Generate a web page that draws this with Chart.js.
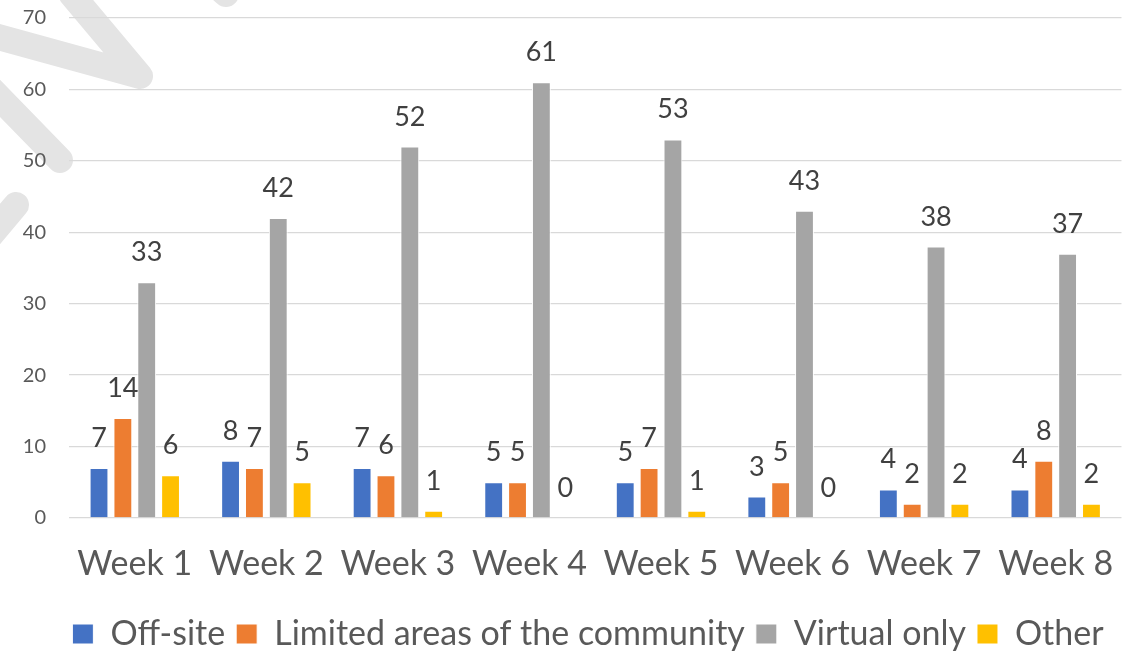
<!DOCTYPE html>
<html>
<head>
<meta charset="utf-8">
<script src="https://cdn.jsdelivr.net/npm/chart.js@4.4.0/dist/chart.umd.min.js"></script>
<style>
  html, body { margin: 0; padding: 0; background: #fff; }
  #wrap { width: 1140px; height: 657px; position: relative; }
</style>
</head>
<body>
<div id="wrap"><canvas id="chart"></canvas></div>
<script>
// Chart data
const weeks = ['Week 1', 'Week 2', 'Week 3', 'Week 4', 'Week 5', 'Week 6', 'Week 7', 'Week 8'];
const offSite = [7, 8, 7, 5, 5, 3, 4, 4];
const limitedAreas = [14, 7, 6, 5, 7, 5, 2, 8];
const virtualOnly = [33, 42, 52, 61, 53, 43, 38, 37];
const other = [6, 5, 1, 0, 1, 0, 2, 2];
const yTicks = [0, 10, 20, 30, 40, 50, 60, 70];

const FONT = 'Lato, "Open Sans", sans-serif';
const TEXT = '#595959';

// faint gray strokes in the top-left corner (background watermark)
const watermark = {
    id: 'watermark',
    beforeDraw(chart) {
        const ctx = chart.ctx;
        ctx.save();
        ctx.strokeStyle = '#e4e4e4';
        ctx.lineWidth = 26;
        ctx.lineCap = 'round';
        ctx.lineJoin = 'round';
        ctx.beginPath();
        ctx.moveTo(-20, 32);
        ctx.lineTo(140, 76);
        ctx.lineTo(72, -5);
        ctx.stroke();
        ctx.beginPath();
        ctx.moveTo(-10, 88);
        ctx.lineTo(60, 160);
        ctx.stroke();
        ctx.beginPath();
        ctx.moveTo(-10, 236);
        ctx.lineTo(16, 205);
        ctx.stroke();
        ctx.beginPath();
        ctx.moveTo(210, -20);
        ctx.lineTo(226, -6);
        ctx.stroke();
        ctx.restore();
    }
};

// value labels above each bar
const barLabels = {
    id: 'barLabels',
    afterDatasetsDraw(chart) {
        const ctx = chart.ctx;
        ctx.save();
        ctx.font = '27px ' + FONT;
        ctx.fillStyle = '#404040';
        ctx.textAlign = 'center';
        ctx.textBaseline = 'alphabetic';
        chart.data.datasets.forEach((ds, i) => {
            chart.getDatasetMeta(i).data.forEach((bar, j) => {
                ctx.fillText(String(ds.data[j]), bar.x, bar.y - 21);
            });
        });
        ctx.restore();
    }
};

// the legend sits centred under the plot area rather than the whole canvas
const legendShift = {
    id: 'legendShift',
    afterLayout(chart) {
        if (chart.legend) chart.legend.left += 50;
    }
};

const makeSet = (label, data, color) => ({
    label: label,
    data: data,
    backgroundColor: color,
    borderColor: '#ffffff',
    borderWidth: 1,
    categoryPercentage: 0.725,
    barPercentage: 0.79
});

new Chart(document.getElementById('chart').getContext('2d'), {
    type: 'bar',
    data: {
        labels: weeks,
        datasets: [
            makeSet('Off-site', offSite, '#4472C4'),
            makeSet('Limited areas of the community', limitedAreas, '#ED7D31'),
            makeSet('Virtual only', virtualOnly, '#A5A5A5'),
            makeSet('Other', other, '#FFC000')
        ]
    },
    options: {
        responsive: true,
        maintainAspectRatio: false,
        animation: false,
        layout: { padding: { top: 18, right: 14, left: 0, bottom: -4 } },
        scales: {
            y: {
                min: 0,
                max: 70,
                afterBuildTicks: (scale) => { scale.ticks = yTicks.map(v => ({ value: v })); },
                afterFit: (scale) => {
                    scale.width = 69;
                    scale.paddingTop = 0;
                    scale.paddingBottom = 0;
                },
                ticks: { color: TEXT, font: { family: FONT, size: 20 }, padding: 23 },
                grid: { color: '#d9d9d9', lineWidth: 1.3, drawTicks: false },
                border: { display: false }
            },
            x: {
                afterFit: (scale) => { scale.height = 88; },
                ticks: { color: TEXT, font: { family: FONT, size: 34 }, padding: 26 },
                grid: { display: false, drawTicks: false },
                border: { display: false }
            }
        },
        plugins: {
            legend: {
                position: 'bottom',
                labels: {
                    color: TEXT,
                    font: { family: FONT, size: 34 },
                    boxWidth: 21,
                    boxHeight: 20,
                    padding: 11
                }
            },
            tooltip: { enabled: false }
        }
    },
    plugins: [watermark, barLabels, legendShift]
});
</script>
</body>
</html>
